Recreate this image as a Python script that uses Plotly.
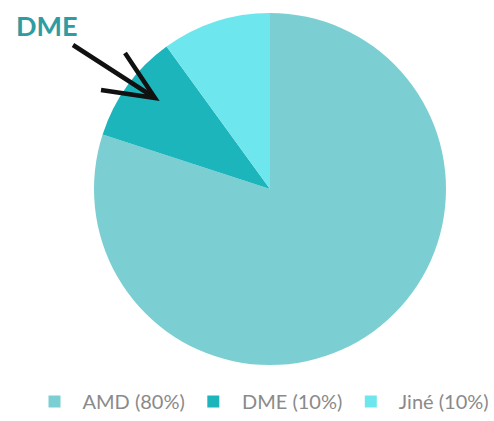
import plotly.graph_objects as go

categories = ["AMD", "DME", "Jiné"]
values = [80, 10, 10]
colors = ["#7BCFD2", "#1BB5BB", "#6EE6EE"]
lead = "\u00a0"
labels = [f"{lead}{c} ({v}%)" for c, v in zip(categories, values)]

W, H = 494, 421

def px(x, y):
    return x / W, 1 - y / H

cx, cy, r = 270, 189, 176
fig = go.Figure(go.Pie(
    labels=labels, values=values, sort=False, direction="clockwise", rotation=0,
    marker=dict(colors=colors, line=dict(width=0)),
    textinfo="none", hoverinfo="label",
    domain=dict(x=[(cx - r) / W, (cx + r) / W],
                y=[1 - (cy + r) / H, 1 - (cy - r) / H]),
))

# arrow
tail = px(73, 45); tip = px(155, 98); w1 = px(125, 53); w2 = px(101, 90)
path = (f"M {tail[0]},{tail[1]} L {tip[0]},{tip[1]} "
        f"M {w1[0]},{w1[1]} L {tip[0]},{tip[1]} L {w2[0]},{w2[1]}")
fig.add_shape(type="path", xref="paper", yref="paper", path=path,
              line=dict(color="#111111", width=4.5))

tx, ty = px(47, 26)
fig.add_annotation(x=tx, y=ty, xref="paper", yref="paper", text="<b>DME</b>",
                   showarrow=False, font=dict(family="Lato", size=27, color="#2E9CA2"),
                   xanchor="center", yanchor="middle")

fig.update_layout(
    width=W, height=H, margin=dict(l=0, r=0, t=0, b=0),
    paper_bgcolor="white", plot_bgcolor="white",
    showlegend=True,
    legend=dict(orientation="h", x=1, xanchor="right", y=0, yanchor="bottom",
                font=dict(family="Lato", size=20, color="#8A8A8A"),
                itemwidth=37,
                itemclick=False, traceorder="normal"),
)

fig.write_html(
    "out.html",
    config={"displayModeBar": False},
    post_script="document.body.style.margin='0';document.body.style.overflow='hidden';",
)
